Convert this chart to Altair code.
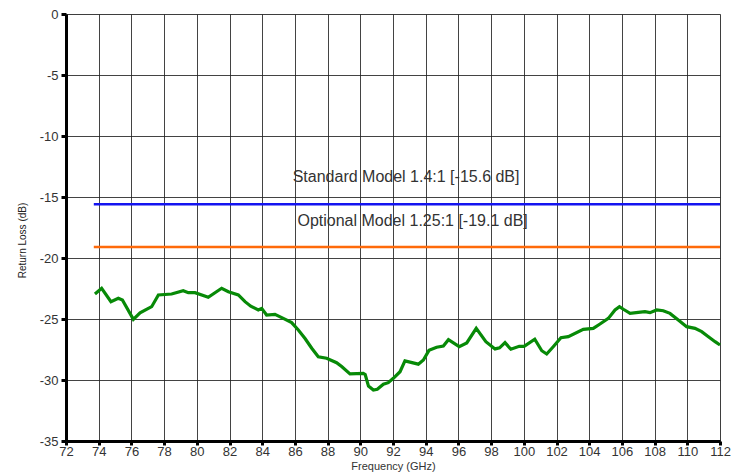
import altair as alt
import pandas as pd

# Measured return loss curve (GHz, dB)
freq = [73.77, 74.18, 74.75, 75.2, 75.45, 76.12, 76.53, 77.24, 77.65, 78.46,
        79.17, 79.48, 79.89, 80.7, 81.52, 81.93, 82.54, 82.95, 83.3, 83.76,
        83.97, 84.27, 84.78, 85.29, 85.8, 86.21, 86.62, 87.03, 87.43, 87.94,
        88.55, 88.86, 89.37, 90.18, 90.3, 90.5, 90.8, 91.04, 91.41, 91.71,
        92.02, 92.43, 92.73, 93.55, 93.86, 94.2, 94.67, 95.08, 95.39, 96.05,
        96.51, 97.09, 97.68, 98.24, 98.52, 98.85, 99.21, 99.72, 100.02, 100.67,
        101.1, 101.4, 101.8, 102.27, 102.72, 103.64, 104.25, 104.66, 105.17, 105.58,
        105.85, 106.09, 106.5, 107.0, 107.41, 107.72, 108.13, 108.53, 108.94, 109.45,
        109.96, 110.47, 110.88, 111.29, 111.7, 112.0]
return_loss = [-22.95, -22.48, -23.58, -23.3, -23.44, -25.03, -24.5, -23.99, -23.03, -22.95,
               -22.68, -22.84, -22.84, -23.22, -22.48, -22.76, -23.03, -23.58, -23.95, -24.26,
               -24.13, -24.67, -24.62, -24.95, -25.3, -25.9, -26.6, -27.4, -28.09, -28.22,
               -28.58, -28.9, -29.5, -29.45, -29.55, -30.5, -30.82, -30.76, -30.35, -30.22,
               -29.86, -29.32, -28.43, -28.7, -28.36, -27.57, -27.32, -27.21, -26.7, -27.27,
               -26.96, -25.77, -26.86, -27.45, -27.36, -26.94, -27.48, -27.24, -27.24, -26.66,
               -27.6, -27.87, -27.27, -26.54, -26.45, -25.85, -25.77, -25.41, -24.95, -24.26,
               -23.99, -24.2, -24.54, -24.45, -24.4, -24.48, -24.26, -24.32, -24.54, -25.08,
               -25.63, -25.77, -26.04, -26.45, -26.86, -27.13]

# Specification limits
ref_names = ["Standard Model 1.4:1 [-15.6 dB]", "Optional Model 1.25:1 [-19.1 dB]"]
ref_levels = [-15.6, -19.1]
ref_start = [73.7, 73.7]
ref_end = [112.0, 112.0]
label_x = [92.8, 93.2]
label_y = [-13.4, -16.95]

x_ticks = list(range(72, 113, 2))
y_ticks = list(range(-35, 1, 5))

FONT = "Liberation Sans"
ref_colors = ["#1414f0", "#ff6a0a"]

curve_df = pd.DataFrame({"freq": freq, "rl": return_loss})
ref_df = pd.DataFrame({"name": ref_names, "level": ref_levels,
                       "x0": ref_start, "x1": ref_end})
lab_df = pd.DataFrame({"name": ref_names, "x": label_x, "y": label_y})

xscale = alt.Scale(domain=[72, 112], nice=False, zero=False)
yscale = alt.Scale(domain=[-35, 0], nice=False, zero=False)

xaxis = alt.Axis(values=x_ticks, title="Frequency (GHz)", grid=True,
                 gridColor="#222", gridWidth=1, gridOpacity=0.85,
                 domainColor="black", domainWidth=3,
                 tickColor="black", tickWidth=3, tickSize=4,
                 labelFont=FONT, labelFontSize=13, labelColor="#333",
                 labelPadding=0, labelFlush=False, labelOverlap=False,
                 labelExpr="'' + datum.value",
                 titleFont=FONT, titleFontSize=11, titleFontWeight="normal",
                 titleColor="#333", titleY=28.5, titleBaseline="alphabetic")
yaxis = alt.Axis(values=y_ticks, title="Return Loss (dB)", grid=True,
                 gridColor="#222", gridWidth=1, gridOpacity=0.85,
                 domainColor="black", domainWidth=3,
                 tickColor="black", tickWidth=3, tickSize=5,
                 labelFont=FONT, labelFontSize=13, labelColor="#333",
                 labelPadding=3, labelFlush=False, labelOverlap=False,
                 labelExpr="'' + datum.value",
                 titleFont=FONT, titleFontSize=10, titleFontWeight="normal",
                 titleColor="#222", titleX=-44, titleY=226,
                 titleAngle=-90, titleAlign="center", titleBaseline="middle")

refs = alt.Chart(ref_df).mark_rule(strokeWidth=2.5).encode(
    x=alt.X("x0:Q", scale=xscale, axis=xaxis),
    x2="x1:Q",
    y=alt.Y("level:Q", scale=yscale, axis=yaxis),
    color=alt.Color("name:N", scale=alt.Scale(domain=ref_names, range=ref_colors),
                    legend=None),
)

curve = alt.Chart(curve_df).mark_line(color="#078a07", strokeWidth=3.2).encode(
    x=alt.X("freq:Q", scale=xscale, axis=xaxis),
    y=alt.Y("rl:Q", scale=yscale, axis=yaxis),
)

labels = alt.Chart(lab_df).mark_text(font=FONT, fontSize=16, color="#333").encode(
    x=alt.X("x:Q", scale=xscale, axis=xaxis),
    y=alt.Y("y:Q", scale=yscale, axis=yaxis),
    text="name:N",
)

chart = alt.layer(refs, curve, labels).properties(
    width=654, height=427,
    autosize=alt.AutoSizeParams(type="none"),
    padding={"left": 58, "top": 6, "right": 18, "bottom": 31},
).configure_view(stroke="#888", strokeWidth=2).configure(background="white")

chart.save("out.html", embed_options={"renderer": "svg", "actions": False})
